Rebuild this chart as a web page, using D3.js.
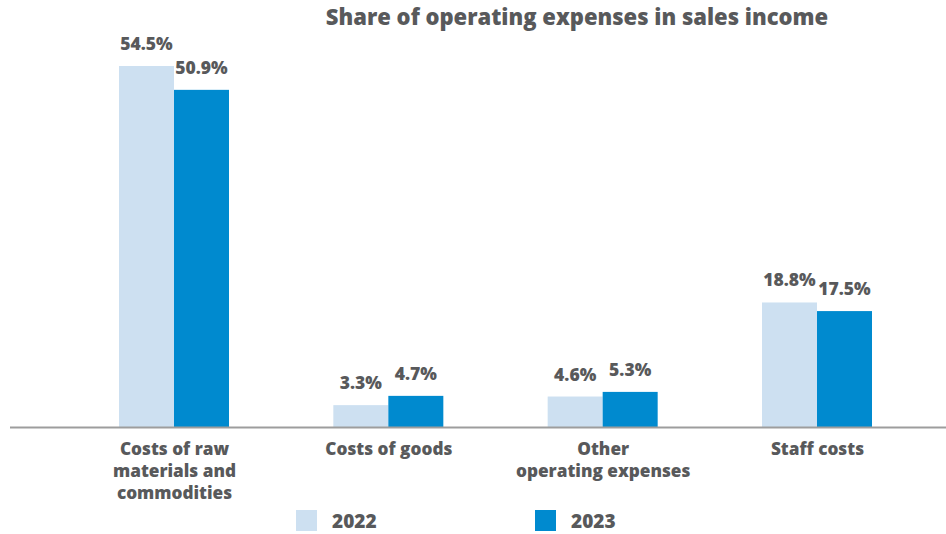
<!DOCTYPE html>
<html>
<head>
<meta charset="utf-8">
<script src="https://cdn.jsdelivr.net/npm/d3@7"></script>
<style>
  html, body { margin: 0; padding: 0; background: #ffffff; }
  svg { display: block; font-family: "Open Sans", Roboto, sans-serif; }
</style>
</head>
<body>
<svg id="chart" width="946" height="534"></svg>
<script>
// Chart data
const title = "Share of operating expenses in sales income";
const categories = [
  "Costs of raw materials and commodities",
  "Costs of goods",
  "Other operating expenses",
  "Staff costs"
];
const categoryLines = [
  ["Costs of raw", "materials and", "commodities"],
  ["Costs of goods"],
  ["Other", "operating expenses"],
  ["Staff costs"]
];
const years = ["2022", "2023"];
const values2022 = [54.5, 3.3, 4.6, 18.8];
const values2023 = [50.9, 4.7, 5.3, 17.5];
const yearColors = ["#cde0f1", "#008acf"];

const W = 946, H = 534;
const textColor = "#58595b";
const fontFamily = '"Open Sans", Roboto, sans-serif';
const svg = d3.select("#chart");

const series = [values2022, values2023];
const rows = categories.map((c, i) => ({
  cat: c,
  lines: categoryLines[i],
  vals: years.map((yr, j) => ({ year: yr, value: series[j][i], color: yearColors[j] }))
}));

// Scales
const x = d3.scalePoint().domain(categories).range([174, 817]);
const xInner = d3.scaleBand().domain(years).range([-55, 55]).padding(0);
const y = d3.scaleLinear().domain([0, 54.5]).range([427, 66]);

// Title
svg.append("text")
  .attr("x", 577).attr("y", 25)
  .attr("text-anchor", "middle")
  .attr("fill", textColor)
  .attr("font-size", 22).attr("font-weight", 800)
  .text(title);

// Bars
const groups = svg.selectAll("g.group")
  .data(rows).join("g")
  .attr("class", "group")
  .attr("transform", d => `translate(${x(d.cat)},0)`);

groups.selectAll("rect")
  .data(d => d.vals).join("rect")
  .attr("x", d => xInner(d.year))
  .attr("width", xInner.bandwidth())
  .attr("y", d => y(d.value))
  .attr("height", d => y(0) - y(d.value))
  .attr("fill", d => d.color);

// Value labels
groups.selectAll("text.value")
  .data(d => d.vals).join("text")
  .attr("class", "value")
  .attr("x", d => xInner(d.year) + xInner.bandwidth() / 2)
  .attr("y", d => y(d.value) - 16)
  .attr("text-anchor", "middle")
  .attr("fill", textColor)
  .attr("font-size", 17.5).attr("font-weight", 800)
  .text(d => d.value.toFixed(1) + "%");

// Baseline axis
const axis = svg.append("g")
  .attr("transform", `translate(0,${y(0)})`)
  .call(d3.axisBottom(x).tickSize(0).tickFormat(""))
  .attr("font-family", fontFamily);
axis.select(".domain").remove();
axis.append("line")
  .attr("x1", 10).attr("x2", W)
  .attr("y1", 0.5).attr("y2", 0.5)
  .attr("stroke", "#9d9d9d").attr("stroke-width", 2);

// Category labels (multi-line)
axis.selectAll(".tick").each(function (d, i) {
  const t = d3.select(this).append("text")
    .attr("text-anchor", "middle")
    .attr("fill", textColor)
    .attr("font-family", fontFamily)
    .attr("font-size", 17.2).attr("font-weight", 800)
    .attr("y", 28);
  categoryLines[i].forEach((ln, k) => {
    t.append("tspan").attr("x", 0).attr("dy", k === 0 ? 0 : 22).text(ln);
  });
});

// Legend
const legendX = [296, 535];
const legend = svg.selectAll("g.legend")
  .data(years).join("g")
  .attr("class", "legend")
  .attr("transform", (d, i) => `translate(${legendX[i]},510)`);
legend.append("rect")
  .attr("width", 21).attr("height", 21)
  .attr("fill", (d, i) => yearColors[i]);
legend.append("text")
  .attr("x", 36).attr("y", 18)
  .attr("fill", textColor)
  .attr("font-size", 19).attr("font-weight", 800)
  .text(d => d);
</script>
</body>
</html>
